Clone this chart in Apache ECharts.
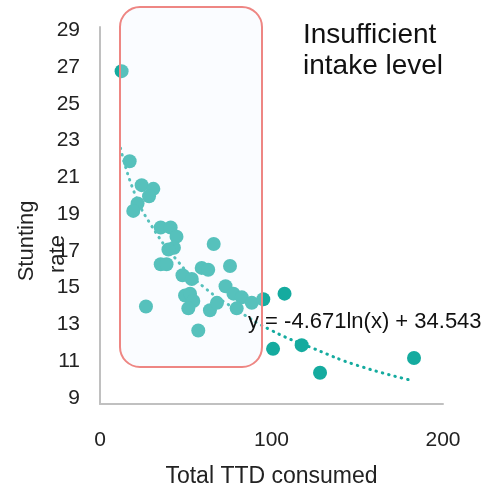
<!DOCTYPE html>
<html>
<head>
<meta charset="utf-8">
<script src="https://cdn.jsdelivr.net/npm/echarts@6/dist/echarts.min.js"></script>
<style>
  html, body { margin: 0; padding: 0; background: #fff; }
  #chart { width: 484px; height: 487px; }
</style>
</head>
<body>
<div id="chart"></div>
<script>
// TTD consumed vs stunting rate, one point per area
var ttdValues = [12.6, 17.3, 24.3, 31.1, 28.6, 21.9, 19.4, 35.4, 41.2, 44.6, 43.1, 39.9, 66.3,
  35.4, 38.8, 48.1, 53.5, 59.3, 63.1, 75.8, 73.2, 77.8, 82.7, 88.5, 95.2, 107.6,
  49.6, 52.5, 54.4, 51.5, 64.1, 68.2, 79.7, 26.8, 57.3, 100.9, 117.6, 128.3, 183.1]
var stuntingValues = [27.1, 22.2, 20.9, 20.7, 20.3, 19.9, 19.5, 18.6, 18.6, 18.1, 17.5, 17.4, 17.7,
  16.6, 16.6, 16.0, 15.8, 16.4, 16.3, 16.5, 15.4, 15.0, 14.8, 14.5, 14.7, 15.0,
  14.9, 15.0, 14.6, 14.2, 14.1, 14.5, 14.2, 14.3, 13.0, 12.0, 12.2, 10.7, 11.5]

// log trend line
var trendX = [12, 20, 30, 45, 60, 80, 100, 125, 150, 181]
var trendY = [22.9, 20.5, 18.7, 16.8, 15.4, 14.1, 13.0, 12.0, 11.1, 10.3]

var yTicks = { min: 9, max: 29.5, step: 2 }
var xTicks = { min: 0, max: 200, step: 100 }

var teal = '#15ab9f'
var chart = echarts.init(document.getElementById('chart'))

var points = ttdValues.map(function (x, i) { return [x, stuntingValues[i]] })
var trend = trendX.map(function (x, i) { return [x, trendY[i]] })

var option = {
  animation: false,
  grid: { left: 100, right: 41, top: 27, bottom: 83, outerBoundsMode: 'none' },
  xAxis: {
    type: 'value',
    min: xTicks.min,
    max: xTicks.max,
    interval: xTicks.step,
    name: 'Total TTD consumed',
    nameLocation: 'middle',
    nameGap: 61,
    nameTextStyle: { color: '#222', fontSize: 23, fontFamily: 'Liberation Sans' },
    axisLine: { lineStyle: { color: '#c0c0c0', width: 2 } },
    axisTick: { show: false },
    splitLine: { show: false },
    axisLabel: { color: '#222', fontSize: 21, fontFamily: 'Liberation Sans', margin: 26 }
  },
  yAxis: {
    type: 'value',
    min: yTicks.min,
    max: yTicks.max,
    interval: yTicks.step,
    axisLine: { show: true, lineStyle: { color: '#c0c0c0', width: 2 } },
    axisTick: { show: false },
    splitLine: { show: false },
    axisLabel: {
      color: '#222', fontSize: 21, fontFamily: 'Liberation Sans',
      margin: 20, verticalAlign: 'bottom', lineHeight: 12, showMaxLabel: false
    }
  },
  series: [{
    type: 'line',
    data: trend,
    smooth: true,
    symbol: 'none',
    lineStyle: { color: teal, width: 3, type: [0.5, 6], cap: 'round' },
    z: 1
  }, {
    type: 'scatter',
    data: points,
    symbolSize: 14,
    itemStyle: { color: teal, opacity: 1 },
    z: 2
  }],
  graphic: [
    {
      // highlighted range box, drawn over the points
      type: 'rect',
      z: 100,
      shape: { x: 120, y: 7, width: 142, height: 360, r: 20 },
      style: { fill: 'rgba(240,245,255,0.3)', stroke: '#ee8683', lineWidth: 2 }
    },
    {
      type: 'text', z: 101, left: 303, top: 20,
      style: { text: 'Insufficient\nintake level', fill: '#111', fontSize: 28, lineHeight: 31, fontFamily: 'Liberation Sans' }
    },
    {
      type: 'text', z: 101, left: 248, top: 311,
      style: { text: 'y = -4.671ln(x) + 34.543', fill: '#111', fontSize: 22, fontFamily: 'Liberation Sans' }
    },
    {
      type: 'text', z: 101, x: 27, y: 241, rotation: Math.PI / 2,
      style: { text: 'Stunting', fill: '#222', fontSize: 22, fontFamily: 'Liberation Sans', align: 'center', verticalAlign: 'middle' }
    },
    {
      type: 'text', z: 101, x: 58, y: 254, rotation: Math.PI / 2,
      style: { text: 'rate', fill: '#222', fontSize: 22, fontFamily: 'Liberation Sans', align: 'center', verticalAlign: 'middle' }
    }
  ]
}
chart.setOption(option)
</script>
</body>
</html>
